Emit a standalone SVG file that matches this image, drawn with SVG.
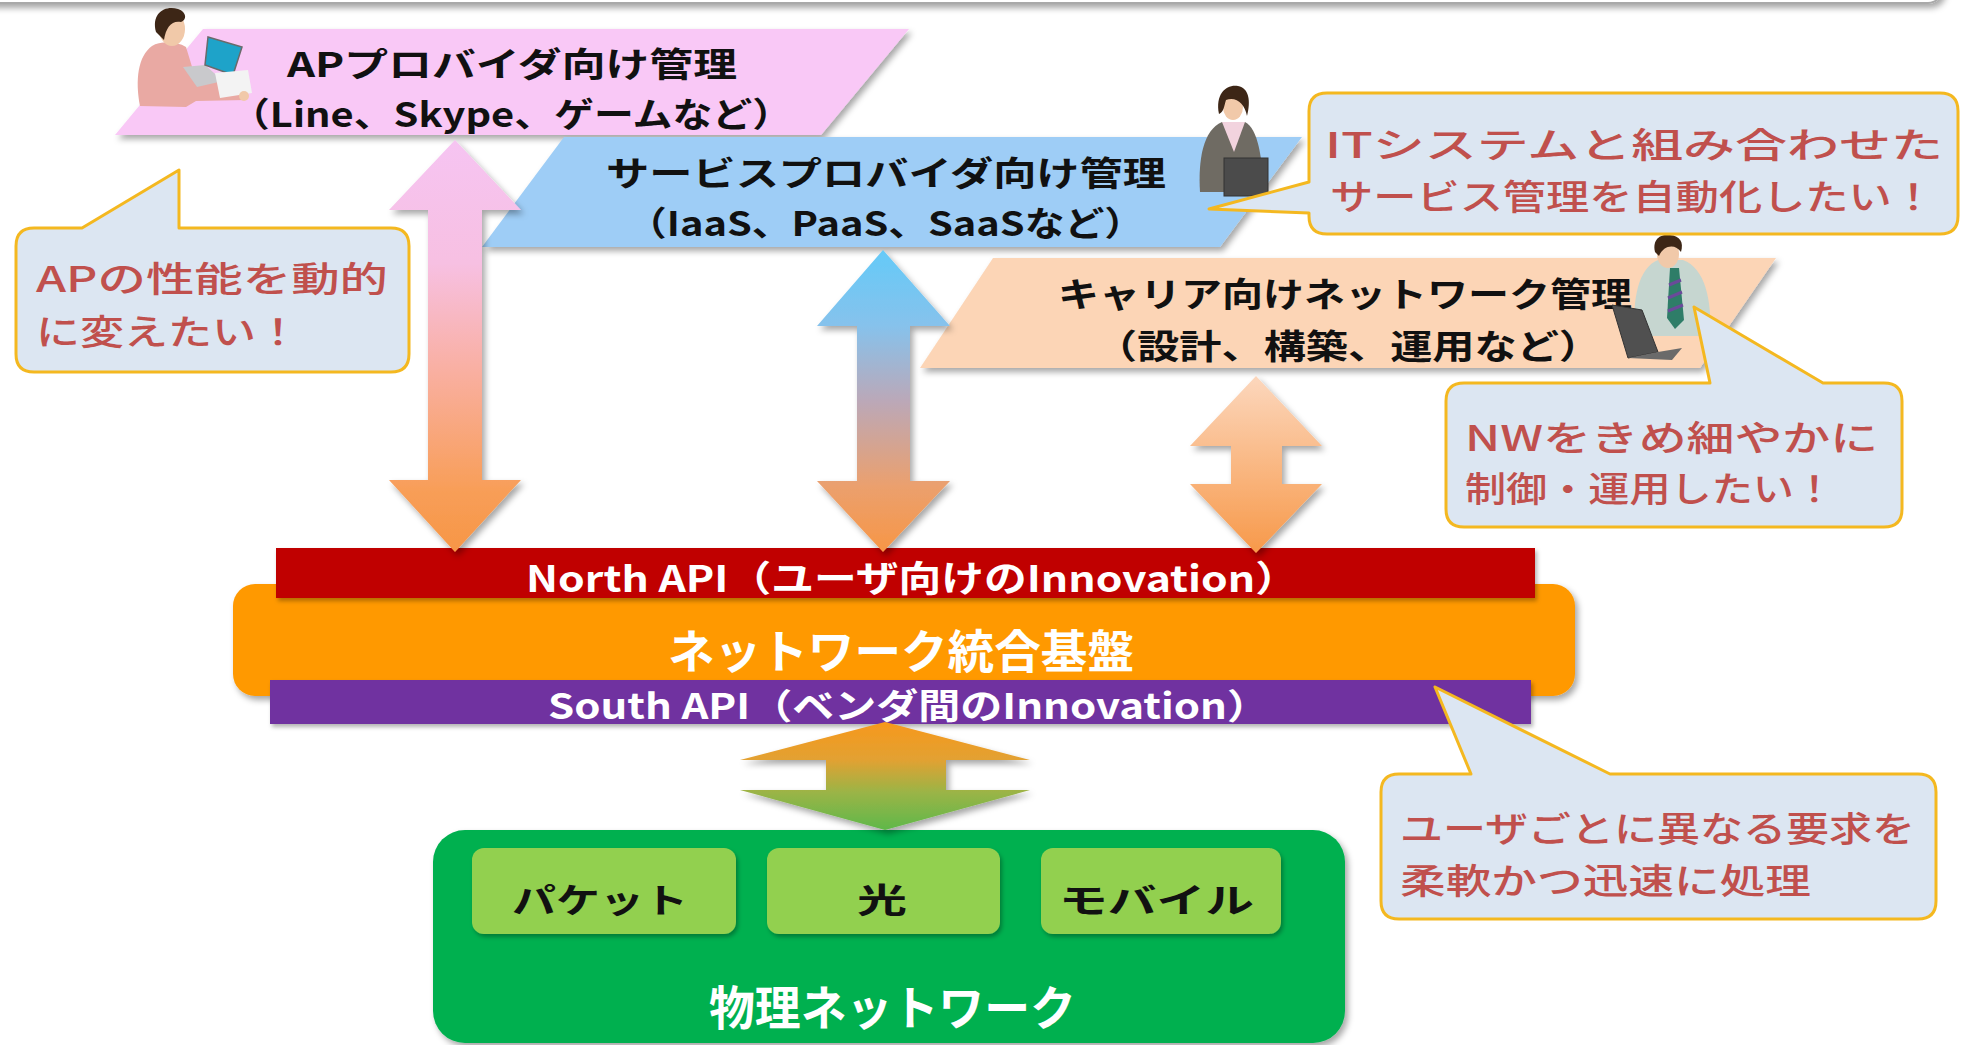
<svg xmlns="http://www.w3.org/2000/svg" width="1965" height="1045" viewBox="0 0 1965 1045">
  <style>
    .lbl { font-family: "Noto Sans CJK JP", "Noto Sans", sans-serif; font-weight: 700; fill: #111; font-size: 34px; }
    .wht { font-family: "Noto Sans CJK JP", "Noto Sans", sans-serif; font-weight: 700; fill: #ffffff; }
    .say { font-family: "Noto Sans CJK JP", "Noto Sans", sans-serif; font-weight: 500; fill: #c0504d; font-size: 35px; }
    .bubble { fill: #dce6f2; stroke: #f4b820; stroke-width: 3; stroke-linejoin: round; }
    .skin { fill: #f1c9a9; }
    .hair { fill: #3d2616; }
  </style>
  <defs>
    <filter id="sh" x="-10%" y="-20%" width="130%" height="160%">
      <feDropShadow dx="3" dy="4" stdDeviation="3" flood-color="#000" flood-opacity="0.35"/>
    </filter>
    <filter id="shs" x="-10%" y="-20%" width="130%" height="160%">
      <feDropShadow dx="2" dy="3" stdDeviation="2" flood-color="#000" flood-opacity="0.3"/>
    </filter>
    <linearGradient id="gPink" x1="0" y1="0" x2="0" y2="1">
      <stop offset="0" stop-color="#f6c4f2"/>
      <stop offset="0.3" stop-color="#f7c0e2"/>
      <stop offset="0.55" stop-color="#f9b0a4"/>
      <stop offset="0.85" stop-color="#f89e58"/>
      <stop offset="1" stop-color="#f79646"/>
    </linearGradient>
    <linearGradient id="gBlue" x1="0" y1="0" x2="0" y2="1">
      <stop offset="0" stop-color="#64caf8"/>
      <stop offset="0.25" stop-color="#86c2ec"/>
      <stop offset="0.5" stop-color="#bba8b8"/>
      <stop offset="0.78" stop-color="#eba06e"/>
      <stop offset="1" stop-color="#f79646"/>
    </linearGradient>
    <linearGradient id="gPeach" x1="0" y1="0" x2="0" y2="1">
      <stop offset="0" stop-color="#fcd7bd"/>
      <stop offset="1" stop-color="#f7994a"/>
    </linearGradient>
    <linearGradient id="gSouth" x1="0" y1="0" x2="0" y2="1">
      <stop offset="0" stop-color="#f7981c"/>
      <stop offset="0.35" stop-color="#e2a132"/>
      <stop offset="0.65" stop-color="#9bb446"/>
      <stop offset="1" stop-color="#5fb84a"/>
    </linearGradient>
  </defs>

  <!-- frame edge along the top -->
  <rect x="-20" y="-40" width="1962" height="43" rx="14" fill="#ffffff" stroke="#a9a9a9" stroke-width="2" filter="url(#sh)"/>

  <!-- management layers -->
  <g id="ap-provider">
    <polygon points="203,29 909,29 821,135 115,135" fill="#f9c8f6" filter="url(#sh)"/>
    <text class="lbl" x="287" y="77" textLength="450" lengthAdjust="spacingAndGlyphs">APプロバイダ向け管理</text>
    <text class="lbl" x="230" y="127" textLength="562" lengthAdjust="spacingAndGlyphs">（Line、Skype、ゲームなど）</text>
  </g>

  <g id="service-provider">
    <polygon points="564,137 1302,137 1220,247 482,247" fill="#9ecdf6" filter="url(#sh)"/>
    <text class="lbl" x="606" y="186" textLength="560" lengthAdjust="spacingAndGlyphs">サービスプロバイダ向け管理</text>
    <text class="lbl" x="627" y="236" textLength="517" lengthAdjust="spacingAndGlyphs">（IaaS、PaaS、SaaSなど）</text>
  </g>

  <g id="carrier">
    <polygon points="993,258 1776,258 1700,368 920,368" fill="#fcd5b6" filter="url(#sh)"/>
    <text class="lbl" x="1058" y="307" textLength="574" lengthAdjust="spacingAndGlyphs">キャリア向けネットワーク管理</text>
    <text class="lbl" x="1095" y="359" textLength="506" lengthAdjust="spacingAndGlyphs">（設計、構築、運用など）</text>
  </g>

  <!-- users at their laptops -->
  <g id="user-ap">
    <path d="M140,106 C135,80 138,56 152,46 C160,41 176,41 186,47 L193,70 L238,86 L246,100 L196,101 L186,107 Z" fill="#e9a9a3"/>
    <ellipse class="skin" cx="172" cy="29" rx="13" ry="17"/>
    <path class="hair" d="M156,32 C151,13 165,5 178,9 C187,12 187,20 181,22 C172,20 166,27 164,40 Z"/>
    <polygon points="183,67 205,65 223,81 197,87" fill="#c9c9cc"/>
    <polygon points="208,37 242,47 233,75 205,65" fill="#1ea3c9" stroke="#6a6a6a" stroke-width="1.5"/>
    <polygon points="215,73 248,70 252,93 220,98" fill="#f3f3f3"/>
    <circle class="skin" cx="244" cy="96" r="5"/>
  </g>

  <g id="user-sp">
    <path d="M1200,192 C1198,160 1203,130 1222,122 L1245,122 C1258,128 1263,160 1263,192 Z" fill="#6f6b63"/>
    <polygon points="1222,122 1245,122 1234,152" fill="#f2d3de"/>
    <ellipse class="skin" cx="1233" cy="107" rx="10" ry="13"/>
    <path class="hair" d="M1219,114 C1215,93 1227,84 1238,86 C1249,88 1251,101 1247,116 C1245,104 1236,96 1226,100 C1224,106 1224,112 1219,114 Z"/>
    <rect x="1224" y="158" width="44" height="38" fill="#4b4b4b" stroke="#333" stroke-width="1"/>
  </g>

  <g id="user-carrier">
    <path d="M1635,336 C1632,300 1638,268 1658,260 L1683,260 C1705,268 1712,300 1710,336 Z" fill="#c6d6d0"/>
    <polygon points="1670,268 1679,268 1684,320 1675,329 1667,318" fill="#2e7d68"/>
    <path d="M1669,285 L1681,280 M1668,298 L1682,292 M1668,311 L1683,305" stroke="#6a4a9a" stroke-width="3"/>
    <ellipse class="skin" cx="1668" cy="254" rx="11" ry="14"/>
    <path class="hair" d="M1655,252 C1652,238 1662,234 1670,235 C1680,236 1684,242 1681,252 C1676,244 1664,244 1659,256 Z"/>
    <polygon points="1612,305 1642,310 1658,352 1628,358" fill="#505050" stroke="#333" stroke-width="1"/>
    <polygon points="1628,358 1658,352 1682,348 1672,360" fill="#6a6a6a"/>
  </g>

  <!-- integration platform and API layers -->
  <g id="platform">
    <rect x="233" y="584" width="1342" height="112" rx="22" fill="#ff9900" filter="url(#sh)"/>
    <text class="wht" x="668" y="668" font-size="46" textLength="466" lengthAdjust="spacingAndGlyphs">ネットワーク統合基盤</text>
  </g>

  <g id="north-api">
    <rect x="276" y="548" width="1259" height="50" fill="#c00000" filter="url(#shs)"/>
    <text class="wht" x="526" y="592" font-size="36" textLength="772" lengthAdjust="spacingAndGlyphs">North API（ユーザ向けのInnovation）</text>
  </g>

  <g id="south-api">
    <rect x="270" y="680" width="1261" height="44" fill="#7030a0" filter="url(#shs)"/>
    <text class="wht" x="548" y="719" font-size="35" textLength="721" lengthAdjust="spacingAndGlyphs">South API（ベンダ間のInnovation）</text>
  </g>

  <!-- physical network -->
  <g id="physical">
    <rect x="433" y="830" width="912" height="213" rx="32" fill="#00b050" filter="url(#sh)"/>
    <rect x="472" y="848" width="264" height="86" rx="12" fill="#92d050" filter="url(#shs)"/>
    <rect x="767" y="848" width="233" height="86" rx="12" fill="#92d050" filter="url(#shs)"/>
    <rect x="1041" y="848" width="240" height="86" rx="12" fill="#92d050" filter="url(#shs)"/>
    <text class="lbl" x="512" y="913" font-size="45" textLength="176" lengthAdjust="spacingAndGlyphs">パケット</text>
    <text class="lbl" x="857" y="913" font-size="45" textLength="50" lengthAdjust="spacingAndGlyphs">光</text>
    <text class="lbl" x="1059" y="913" font-size="45" textLength="195" lengthAdjust="spacingAndGlyphs">モバイル</text>
    <text class="wht" x="709" y="1025" font-size="47" textLength="367" lengthAdjust="spacingAndGlyphs">物理ネットワーク</text>
  </g>

  <!-- two-way arrows between the layers -->
  <g id="connectors" filter="url(#sh)">
    <polygon points="455,140 521,210 482,210 482,480 521,480 455,552 389,480 428,480 428,210 389,210" fill="url(#gPink)"/>
    <polygon points="883,250 950,326 910,326 910,481 950,481 883,552 817,481 857,481 857,326 817,326" fill="url(#gBlue)"/>
    <polygon points="1256,376 1322,446 1282,446 1282,484 1322,484 1256,553 1190,484 1231,484 1231,446 1190,446" fill="url(#gPeach)"/>
    <polygon points="885,722 1030,760 946,760 946,790 1030,790 885,830 740,790 826,790 826,760 740,760" fill="url(#gSouth)"/>
  </g>

  <!-- speech bubbles -->
  <g id="bubble-ap">
    <path class="bubble" d="M34,228 H82 L179,170 V228 H391 Q409,228 409,246 V354 Q409,372 391,372 H34 Q16,372 16,354 V246 Q16,228 34,228 Z"/>
    <text class="say" x="36" y="292" textLength="352" lengthAdjust="spacingAndGlyphs">APの性能を動的</text>
    <text class="say" x="36" y="345" textLength="264" lengthAdjust="spacingAndGlyphs">に変えたい！</text>
  </g>

  <g id="bubble-sp">
    <path class="bubble" d="M1327,93 H1940 Q1958,93 1958,111 V216 Q1958,234 1940,234 H1327 Q1309,234 1309,216 V213 L1209,209 L1309,182 V111 Q1309,93 1327,93 Z"/>
    <text class="say" x="1325" y="158" textLength="618" lengthAdjust="spacingAndGlyphs">ITシステムと組み合わせた</text>
    <text class="say" x="1330" y="210" textLength="605" lengthAdjust="spacingAndGlyphs">サービス管理を自動化したい！</text>
  </g>

  <g id="bubble-carrier">
    <path class="bubble" d="M1464,383 H1710 L1694,307 L1823,383 H1884 Q1902,383 1902,401 V509 Q1902,527 1884,527 H1464 Q1446,527 1446,509 V401 Q1446,383 1464,383 Z"/>
    <text class="say" x="1465" y="451" textLength="413" lengthAdjust="spacingAndGlyphs">NWをきめ細やかに</text>
    <text class="say" x="1465" y="502" textLength="370" lengthAdjust="spacingAndGlyphs">制御・運用したい！</text>
  </g>

  <g id="bubble-platform">
    <path class="bubble" d="M1399,774 H1471 L1435,687 L1610,774 H1918 Q1936,774 1936,792 V901 Q1936,919 1918,919 H1399 Q1381,919 1381,901 V792 Q1381,774 1399,774 Z"/>
    <text class="say" x="1400" y="842" textLength="515" lengthAdjust="spacingAndGlyphs">ユーザごとに異なる要求を</text>
    <text class="say" x="1400" y="894" textLength="411" lengthAdjust="spacingAndGlyphs">柔軟かつ迅速に処理</text>
  </g>
</svg>
